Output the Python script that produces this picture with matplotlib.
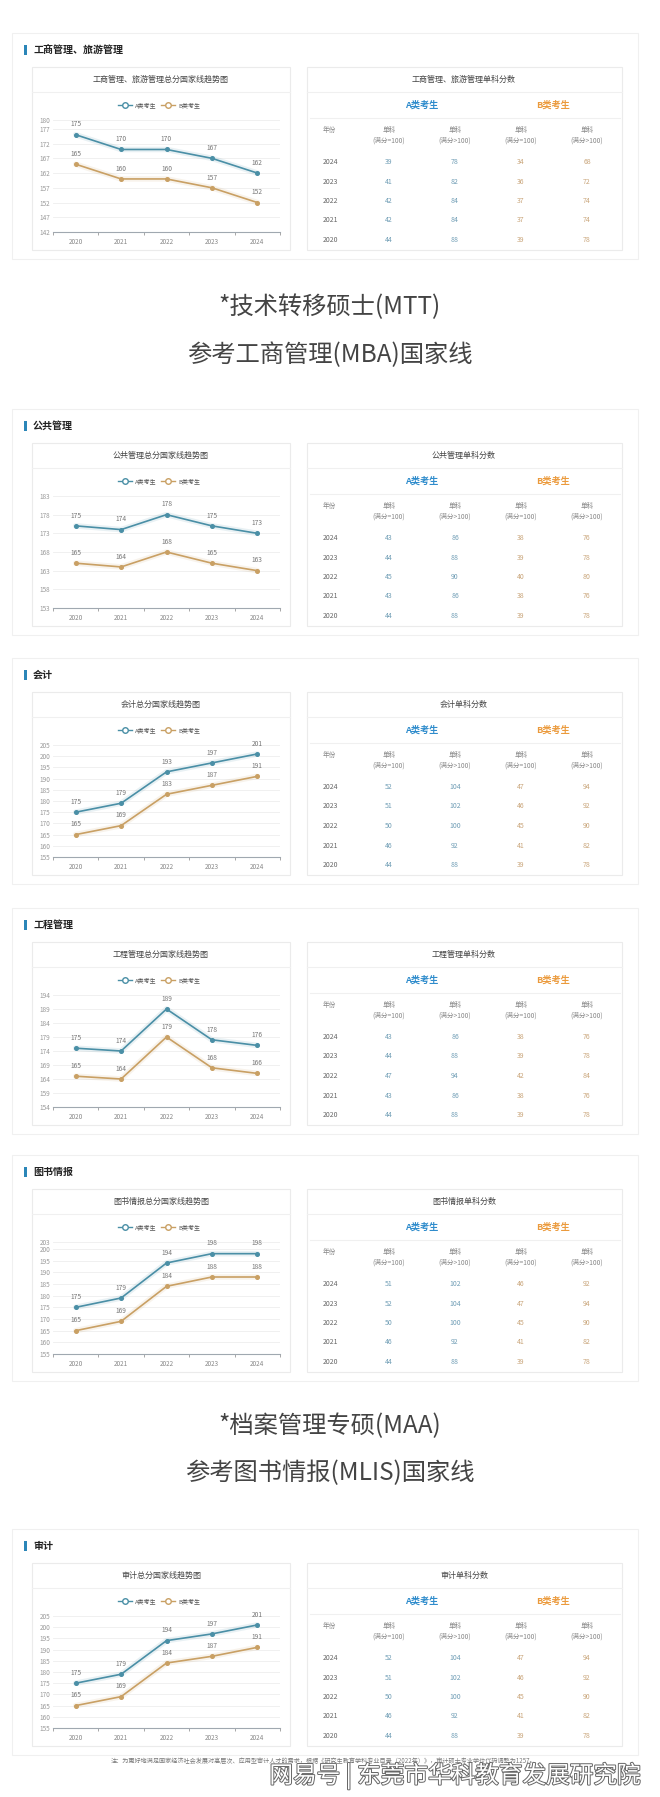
import numpy as np
import matplotlib.pyplot as plt
from matplotlib.patches import Rectangle
import matplotlib.patheffects as pe

plt.rcParams['font.family'] = ['Noto Sans CJK SC', 'DejaVu Sans']

# --- données ---
years = [2020, 2021, 2022, 2023, 2024]
table_years = [2024, 2023, 2022, 2021, 2020]
names = ['工商管理、旅游管理', '公共管理', '会计', '工程管理', '图书情报', '审计']

# 总分国家线 (A类 / B类), 2020 -> 2024
mba_a = [175, 170, 170, 167, 162]
mba_b = [165, 160, 160, 157, 152]
mpa_a = [175, 174, 178, 175, 173]
mpa_b = [165, 164, 168, 165, 163]
acc_a = [175, 179, 193, 197, 201]
acc_b = [165, 169, 183, 187, 191]
em_a = [175, 174, 189, 178, 176]
em_b = [165, 164, 179, 168, 166]
lis_a = [175, 179, 194, 198, 198]
lis_b = [165, 169, 184, 188, 188]
aud_a = [175, 179, 194, 197, 201]
aud_b = [165, 169, 184, 187, 191]

# bornes de l'axe y de chaque graphique
y_min = [142, 153, 155, 154, 155, 155]
y_max = [180, 183, 205, 194, 203, 205]

# 单科分数, lignes 2024 -> 2020 : A(=100), A(>100), B(=100), B(>100)
mba_a1 = [39, 41, 42, 42, 44]
mba_a2 = [78, 82, 84, 84, 88]
mba_b1 = [34, 36, 37, 37, 39]
mba_b2 = [68, 72, 74, 74, 78]
mpa_a1 = [43, 44, 45, 43, 44]
mpa_a2 = [86, 88, 90, 86, 88]
mpa_b1 = [38, 39, 40, 38, 39]
mpa_b2 = [76, 78, 80, 76, 78]
acc_a1 = [52, 51, 50, 46, 44]
acc_a2 = [104, 102, 100, 92, 88]
acc_b1 = [47, 46, 45, 41, 39]
acc_b2 = [94, 92, 90, 82, 78]
em_a1 = [43, 44, 47, 43, 44]
em_a2 = [86, 88, 94, 86, 88]
em_b1 = [38, 39, 42, 38, 39]
em_b2 = [76, 78, 84, 76, 78]
lis_a1 = [51, 52, 50, 46, 44]
lis_a2 = [102, 104, 100, 92, 88]
lis_b1 = [46, 47, 45, 41, 39]
lis_b2 = [92, 94, 90, 82, 78]
aud_a1 = [52, 51, 50, 46, 44]
aud_a2 = [104, 102, 100, 92, 88]
aud_b1 = [47, 46, 45, 41, 39]
aud_b2 = [94, 92, 90, 82, 78]

totals = [(mba_a, mba_b), (mpa_a, mpa_b), (acc_a, acc_b), (em_a, em_b), (lis_a, lis_b), (aud_a, aud_b)]
singles = [(mba_a1, mba_a2, mba_b1, mba_b2), (mpa_a1, mpa_a2, mpa_b1, mpa_b2),
           (acc_a1, acc_a2, acc_b1, acc_b2), (em_a1, em_a2, em_b1, em_b2),
           (lis_a1, lis_a2, lis_b1, lis_b2), (aud_a1, aud_a2, aud_b1, aud_b2)]

W, H = 660, 1797
col_a = '#4a8fa6'
col_b = '#c9a064'
txt_a = '#6f9db5'
txt_b = '#c9a57a'

fig = plt.figure(figsize=(W / 100, H / 100), dpi=100)
ov = fig.add_axes([0, 0, 1, 1])
ov.set_xlim(0, W)
ov.set_ylim(H, 0)
ov.axis('off')

# position verticale (en pixels) du titre de chaque section
head_y = [50, 426, 675, 925, 1172, 1546]


def section(k):
    hy = head_y[k]
    name = names[k]
    top = hy + 17
    # carte extérieure
    ov.add_patch(Rectangle((12, hy - 17), 626, 226, fc='white', ec='#f0f0f0', lw=0.8))
    ov.add_patch(Rectangle((24, hy - 5), 2.5, 10, fc='#2b86b8', ec='none'))
    ov.text(33, hy, name, fontsize=7.2, fontweight='bold', va='center', color='#222222')

    # carte du graphique
    ov.add_patch(Rectangle((32, top), 258, 183, fc='white', ec='#ebebeb', lw=0.8))
    ov.plot([32, 290], [top + 25, top + 25], color='#f0f0f0', lw=0.8)
    ov.text(161, top + 12, name + '总分国家线趋势图', fontsize=5.8, ha='center', va='center', color='#444444')
    # légende
    for lx, c, lab in [(125, col_a, 'A类考生'), (168, col_b, 'B类考生')]:
        ov.plot([lx - 7, lx + 7], [top + 38, top + 38], color=c, lw=1)
        ov.plot(lx, top + 38, 'o', ms=4, mfc='white', mec=c, mew=1)
        ov.text(lx + 10, top + 38, lab, fontsize=4.3, va='center', color='#555555')

    ax = fig.add_axes([53 / W, 1 - (top + 165) / H, 227 / W, 112 / H])
    ax.set_facecolor('none')
    x = np.arange(len(years))
    ta, tb = totals[k]
    for vals, c in [(ta, col_a), (tb, col_b)]:
        ax.plot(x, vals, color=c, lw=4, alpha=0.12, solid_capstyle='round')
        ax.plot(x, vals, color=c, lw=1.2, marker='o', ms=2.6)
        for i, v in enumerate(vals):
            ax.annotate(str(v), (i, v), xytext=(0, 4.5), textcoords='offset points',
                        ha='center', va='bottom', fontsize=4.8, color='#777777')
    ax.set_xlim(-0.5, len(years) - 0.5)
    ax.set_ylim(y_min[k], y_max[k])
    yt = list(range(y_min[k], y_max[k] + 1, 5))
    if yt[-1] != y_max[k]:
        yt.append(y_max[k])
    ax.set_yticks(yt)
    ax.set_xticks(x)
    ax.set_xticklabels([str(y) for y in years])
    ax.set_xticks(np.arange(-0.5, len(years)), minor=True)
    ax.tick_params(axis='x', which='major', length=0, pad=4, labelsize=4.6, labelcolor='#888888')
    ax.tick_params(axis='x', which='minor', length=2.5, color='#999999', width=0.6)
    ax.tick_params(axis='y', length=0, pad=2, labelsize=4.6, labelcolor='#999999')
    ax.grid(axis='y', color='#eeeeee', lw=0.6)
    ax.set_axisbelow(True)
    for s in ['top', 'right', 'left']:
        ax.spines[s].set_visible(False)
    ax.spines['bottom'].set_color('#a0a8b0')
    ax.spines['bottom'].set_linewidth(0.8)

    # carte du tableau
    ov.add_patch(Rectangle((307, top), 315, 183, fc='white', ec='#ebebeb', lw=0.8))
    ov.plot([307, 622], [top + 25, top + 25], color='#f0f0f0', lw=0.8)
    ov.plot([310, 620], [top + 51, top + 51], color='#f0f0f0', lw=0.8)
    ov.text(464, top + 12, name + '单科分数', fontsize=5.8, ha='center', va='center', color='#444444')
    ov.text(422, top + 38, 'A类考生', fontsize=6.6, fontweight='bold', ha='center', va='center', color='#2f8ccc')
    ov.text(553, top + 38, 'B类考生', fontsize=6.6, fontweight='bold', ha='center', va='center', color='#eb9a3c')
    cols_x = [389, 455, 521, 587]
    ov.text(323, top + 63, '年份', fontsize=4.8, va='center', color='#888888')
    for cx, lab in zip(cols_x, ['(满分=100)', '(满分>100)', '(满分=100)', '(满分>100)']):
        ov.text(cx, top + 63, '单科', fontsize=4.8, ha='center', va='center', color='#888888')
        ov.text(cx, top + 74, lab, fontsize=4.8, ha='center', va='center', color='#888888')
    cols = singles[k]
    for r, yr in enumerate(table_years):
        ry = top + 95 + r * 19.5
        ov.text(323, ry, str(yr), fontsize=5, va='center', color='#666666')
        for j, cx in enumerate(cols_x):
            c = txt_a if j < 2 else txt_b
            ov.text(cx, ry, str(cols[j][r]), fontsize=5, ha='center', va='center', color=c)


for k in range(len(names)):
    section(k)

# textes manuscrits
hand = dict(fontsize=17.5, fontweight='light', ha='center', va='center', color='#444444')
ov.text(330, 307, '*技术转移硕士(MTT)', **hand)
ov.text(330, 355, '参考工商管理(MBA)国家线', **hand)
ov.text(330, 1426, '*档案管理专硕(MAA)', **hand)
ov.text(330, 1473, '参考图书情报(MLIS)国家线', **hand)

# note et filigrane
ov.text(324, 1761, '注：为更好地满足国家经济社会发展对高层次、应用型审计人才的需求，根据《研究生教育学科专业目录（2022年）》，审计硕士专业学位代码调整为1257。',
        fontsize=4.4, ha='center', va='center', color='#777777')
ov.text(455, 1776, '网易号 | 东莞市华科教育发展研究院', fontsize=17, ha='center', va='center', color='white',
        path_effects=[pe.withStroke(linewidth=1.4, foreground='#666666')])

fig.savefig('out.png', dpi=100)
